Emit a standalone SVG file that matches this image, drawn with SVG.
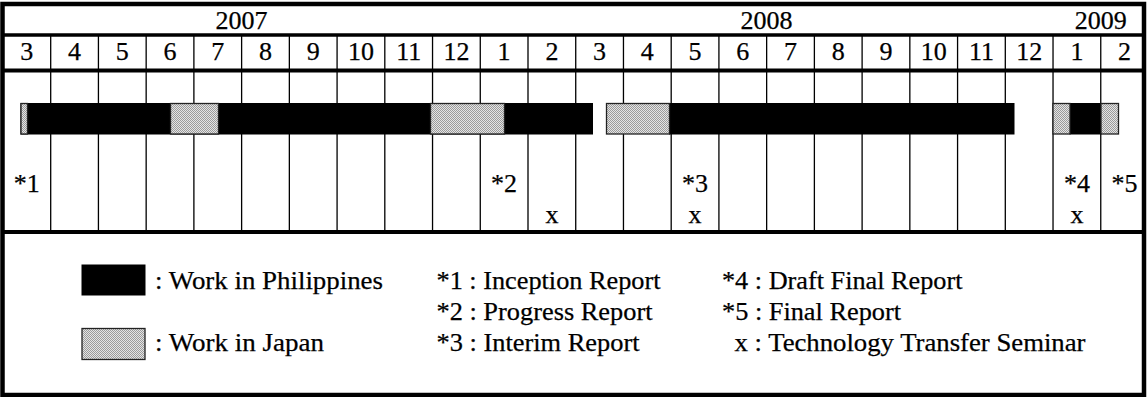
<svg xmlns="http://www.w3.org/2000/svg" width="1148" height="397" viewBox="0 0 1148 397">
<style>
text{font-size:26px;fill:#000;stroke:#000;stroke-width:0.25}
.c{text-anchor:middle}
.thin{stroke:#000;stroke-width:1.3;fill:none}
.thick{stroke:#000;fill:none}
.blk{fill:#000;stroke:#000;stroke-width:1}
.gry{fill:url(#dots);stroke:#222;stroke-width:1.3}
</style>
<defs>
<pattern id="dots" x="0" y="0" width="2" height="2" patternUnits="userSpaceOnUse">
<rect width="2" height="2" fill="#e4e4e4"/>
<rect width="1" height="1" fill="#9a9a9a"/>
<rect x="1" y="1" width="1" height="1" fill="#9a9a9a"/>
</pattern>
</defs>
<rect width="1148" height="397" fill="#fff"/>
<g id="grid">
<path class="thin" d="M50.7 35V232M98.43 35V232M146.16 35V232M193.89 35V232M241.62 35V232M289.35 35V232M337.08 35V232M384.81 35V232M432.54 35V232M480.27 35V232M528 35V232M575.73 35V232M623.46 35V232M671.19 35V232M718.92 35V232M766.65 35V232M814.38 35V232M862.11 35V232M909.84 35V232M957.57 35V232M1005.3 35V232M1053.03 35V232M1100.76 35V232"/>
<path class="thick" stroke-width="3.6" d="M2.5 35H1144"/>
<path class="thick" stroke-width="4.2" d="M2.5 70.5H1144"/>
<path class="thick" stroke-width="4" d="M2.5 232H1144"/>
<rect class="thick" stroke-width="4.5" x="2.5" y="4" width="1141.5" height="391"/>
</g>
<g font-family="Liberation Serif, Times New Roman, DejaVu Serif, serif">
<g id="years">
<text class="c" x="241.6" y="28.5">2007</text>
<text class="c" x="766.6" y="28.5">2008</text>
<text class="c" x="1100.8" y="28.5">2009</text>
</g>
<g id="months">
<text class="c" x="26.8" y="60">3</text>
<text class="c" x="74.6" y="60">4</text>
<text class="c" x="122.3" y="60">5</text>
<text class="c" x="170" y="60">6</text>
<text class="c" x="217.8" y="60">7</text>
<text class="c" x="265.5" y="60">8</text>
<text class="c" x="313.2" y="60">9</text>
<text class="c" x="360.9" y="60">10</text>
<text class="c" x="408.7" y="60">11</text>
<text class="c" x="456.4" y="60">12</text>
<text class="c" x="504.1" y="60">1</text>
<text class="c" x="551.9" y="60">2</text>
<text class="c" x="599.6" y="60">3</text>
<text class="c" x="647.3" y="60">4</text>
<text class="c" x="695.1" y="60">5</text>
<text class="c" x="742.8" y="60">6</text>
<text class="c" x="790.5" y="60">7</text>
<text class="c" x="838.2" y="60">8</text>
<text class="c" x="886" y="60">9</text>
<text class="c" x="933.7" y="60">10</text>
<text class="c" x="981.4" y="60">11</text>
<text class="c" x="1029.2" y="60">12</text>
<text class="c" x="1076.9" y="60">1</text>
<text class="c" x="1124.6" y="60">2</text>
</g>
<g id="bars">
<rect class="blk" x="21" y="103.5" width="571.5" height="30.5"/>
<rect class="gry" x="21" y="103.5" width="6.5" height="30.5"/>
<rect class="gry" x="170.5" y="103.5" width="48" height="30.5"/>
<rect class="gry" x="430.5" y="103.5" width="74" height="30.5"/>
<rect class="blk" x="669.5" y="103.5" width="344.5" height="30.5"/>
<rect class="gry" x="606.5" y="103.5" width="63" height="30.5"/>
<rect class="blk" x="1070" y="103.5" width="31" height="30.5"/>
<rect class="gry" x="1053" y="103.5" width="17" height="30.5"/>
<rect class="gry" x="1101" y="103.5" width="17.5" height="30.5"/>
</g>
<g id="milestones">
<text class="c" x="26.8" y="191.5">*1</text>
<text class="c" x="504.1" y="191.5">*2</text>
<text class="c" x="695.1" y="191.5">*3</text>
<text class="c" x="1076.9" y="191.5">*4</text>
<text class="c" x="1124.6" y="191.5">*5</text>
<text class="c" x="551.9" y="222.5">x</text>
<text class="c" x="695.1" y="222.5">x</text>
<text class="c" x="1076.9" y="222.5">x</text>
</g>
<g id="legend">
<rect class="blk" x="82" y="265" width="63" height="30"/>
<rect class="gry" x="82" y="328.5" width="63" height="31"/>
<text x="155" y="289" textLength="228" lengthAdjust="spacingAndGlyphs">: Work in Philippines</text>
<text x="155" y="350.5" textLength="169" lengthAdjust="spacingAndGlyphs">: Work in Japan</text>
<text x="436.5" y="289" textLength="224" lengthAdjust="spacingAndGlyphs">*1 : Inception Report</text>
<text x="436.5" y="319.5" textLength="216" lengthAdjust="spacingAndGlyphs">*2 : Progress Report</text>
<text x="436.5" y="350.5" textLength="203" lengthAdjust="spacingAndGlyphs">*3 : Interim Report</text>
<text x="722" y="289" textLength="240.5" lengthAdjust="spacingAndGlyphs">*4 : Draft Final Report</text>
<text x="722" y="319.5" textLength="179" lengthAdjust="spacingAndGlyphs">*5 : Final Report</text>
<text x="734.5" y="350.5" textLength="351" lengthAdjust="spacingAndGlyphs">x : Technology Transfer Seminar</text>
</g>
</g>
</svg>
